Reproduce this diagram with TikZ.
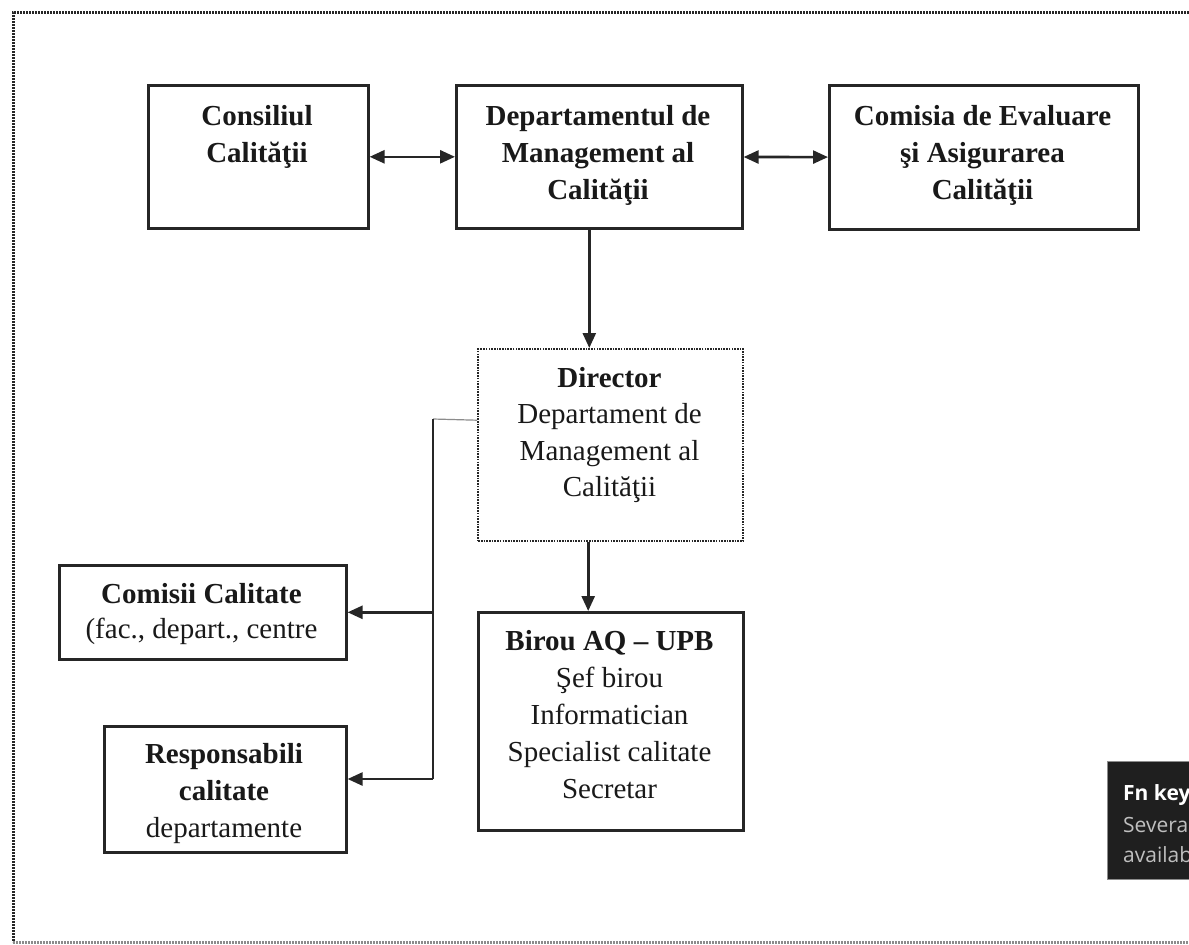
\documentclass[tikz,border=0pt]{standalone}
\usepackage{fontspec}
\setmainfont{Liberation Serif}
\newfontfamily\uifont{Open Sans}
\usetikzlibrary{arrows.meta}
\begin{document}
\begin{tikzpicture}[x=1pt,y=-1pt,
  box/.style={draw=black!85, line width=2.6pt, inner sep=0pt, anchor=north west},
  dotbox/.style={box, line width=2.4pt, dash pattern=on 1.6pt off 1.1pt},
  txt/.style={align=center, inner sep=0pt, anchor=north, text=black!90, font=\fontsize{29}{37}\selectfont},
  btxt/.style={txt, font=\fontsize{29}{37}\selectfont\bfseries},
  tip/.tip={Triangle[length=15pt,width=13pt]},
  arr/.style={line width=2.6pt, draw=black!85, -tip},
  darr/.style={line width=2.6pt, draw=black!85, tip-tip},
  frame/.style={line width=3pt, dash pattern=on 2pt off 1pt},
  fntxt/.style={anchor=base west, inner sep=0pt, font=\uifont\fontsize{21}{21}\selectfont}
  ]
\useasboundingbox (0,0) rectangle (1189,945);
\fill[white] (0,0) rectangle (1189,945);

% outer frame
\draw[frame, black!85] (1189,12) -- (13,12) -- (13,942);
\draw[frame, black!45] (13,942) -- (1189,942);

% top row
\node[box, minimum width=220pt, minimum height=143pt] (cons) at (147,84) {};
\node[btxt] (consT) at (257,105) {Consiliul\\Calităţii};
\node[box, minimum width=286pt, minimum height=143pt] (dept) at (455,84) {};
\node[btxt] (deptT) at (598,105) {Departamentul de\\Management al\\Calităţii};
\node[box, minimum width=309pt, minimum height=144pt] (ceac) at (828,84) {};
\node[btxt] (ceacT) at (982.5,105) {Comisia de Evaluare\\şi Asigurarea\\Calităţii};

% director
\node[dotbox, minimum width=265pt, minimum height=192pt] (dir) at (477,348) {};
\node[txt, font=\fontsize{29}{36.5}\selectfont] (dirT) at (609.5,367) {{\bfseries Director}\\Departament de\\Management al\\Calităţii};

% birou
\node[box, minimum width=265pt, minimum height=218pt] (bir) at (477,611) {};
\node[txt] (birT) at (609.5,630) {{\bfseries Birou AQ – UPB}\\Şef birou\\Informatician\\Specialist calitate\\Secretar};

% left boxes
\node[box, minimum width=287pt, minimum height=94pt] (comm) at (58,564) {};
\node[txt, font=\fontsize{29}{35.5}\selectfont] (commT) at (201.5,583) {{\bfseries Comisii Calitate}\\(fac., depart., centre};
\node[box, minimum width=242pt, minimum height=126pt] (resp) at (103,725) {};
\node[txt] (respT) at (224,743) {{\bfseries Responsabili}\\{\bfseries calitate}\\departamente};

% connectors
\draw[darr] (cons) -- (dept);
\draw[darr] (dept) -- (ceac);
\draw[arr] ([xshift=-10pt]dept.south) -- ([xshift=-10pt]dept.south |- dir.north);
\draw[arr] ([xshift=-22.5pt]dir.south) -- ([xshift=-22.5pt]dir.south |- bir.north);

\coordinate (j) at (433,419);
\coordinate (k) at (433,779);
\draw[line width=1.2pt, black!45] ([yshift=25pt]dir.west) -- (j);
\draw[line width=2.6pt, black!85] (j) -- (k);
\draw[arr] (j |- comm.east) -- (comm.east);
\draw[arr] (k) -- (k -| resp.east);

% notification overlay
\begin{scope}
\clip (0,0) rectangle (1189,945);
\fill[black!88] (1107,761) rectangle (1200,879);
\draw[black!45, line width=0.8pt] (1200,761) -- (1107,761) -- (1107,879) -- (1200,879);
\node[fntxt, text=white, font=\uifont\bfseries\fontsize{21}{21}\selectfont] (fn1) at (1123,800) {Fn key};
\node[fntxt, text=black!25] (fn2) at (1123,832) {Severa};
\node[fntxt, text=black!25] (fn3) at (1123,862) {availab};
\end{scope}
\end{tikzpicture}
\end{document}
